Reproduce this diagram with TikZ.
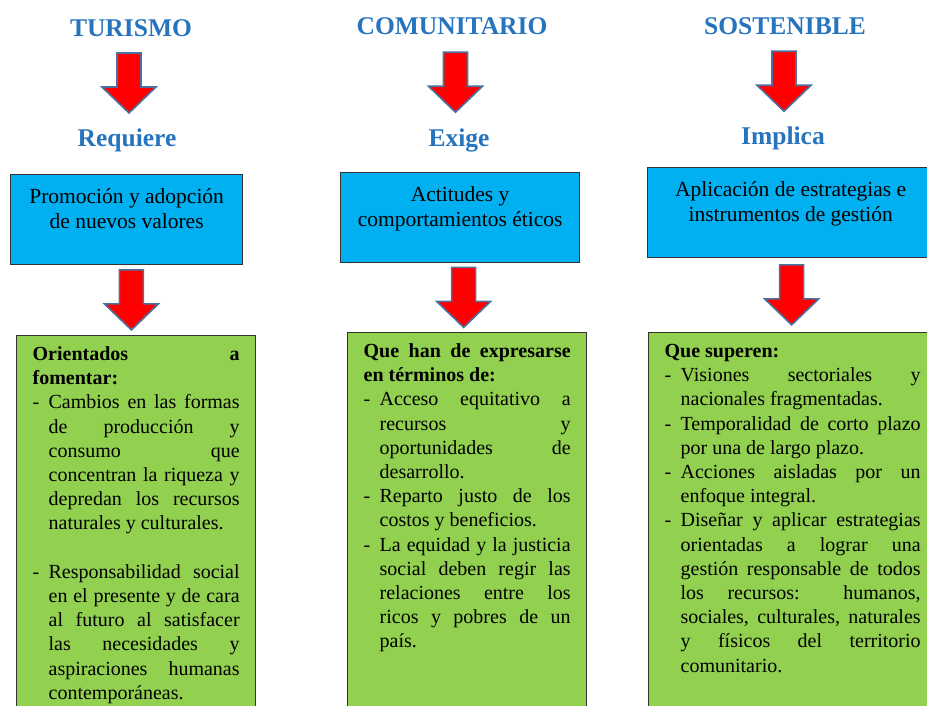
\documentclass[tikz,border=0pt]{standalone}
\usepackage{fontspec}
\setmainfont{Liberation Serif}
\usepackage{xcolor}
\usetikzlibrary{calc}

\definecolor{TitleBlue}{RGB}{38,116,190}
\definecolor{BoxBlue}{RGB}{0,176,240}
\definecolor{BoxGreen}{RGB}{146,208,80}
\definecolor{ArrowRed}{RGB}{255,0,0}
\definecolor{ArrowEdge}{RGB}{78,112,160}

\newcommand{\bluefont}{\fontsize{21.5}{25}\selectfont}
\newcommand{\greenfont}{\fontsize{20}{24.2}\selectfont\parskip=0pt}
% lines of the green boxes
\newcommand{\fullhead}[1]{\strut\makebox[\linewidth][s]{\bfseries #1}\par}
\newcommand{\lasthead}[1]{\strut{\bfseries #1}\par}
\newcommand{\fullitem}[1]{\strut\makebox[16pt][l]{-}\makebox[\dimexpr\linewidth-16pt\relax][s]{#1}\par}
\newcommand{\lastitem}[1]{\strut\makebox[16pt][l]{-}#1\par}
\newcommand{\fullline}[1]{\strut\hspace*{16pt}\makebox[\dimexpr\linewidth-16pt\relax][s]{#1}\par}
\newcommand{\lastline}[1]{\strut\hspace*{16pt}#1\par}

\tikzset{
  title/.style={font=\fontsize{25.5}{30}\selectfont\bfseries, text=TitleBlue, inner sep=0pt, anchor=base},
  bluebox/.style={draw=black!80, line width=1.3pt, fill=BoxBlue, inner xsep=10pt, inner ysep=11pt, anchor=north west},
  greenbox/.style={draw=black!80, line width=1.3pt, fill=BoxGreen, inner xsep=16pt, inner ysep=8pt, anchor=north west},
  downarrow/.pic={
    \filldraw[fill=ArrowRed, draw=ArrowEdge, line width=1.6pt]
      (-12,-30) -- (12,-30) -- (12,4) -- (27,4) -- (0,30) -- (-27,4) -- (-12,4) -- cycle;
  }
}

\begin{document}
\begin{tikzpicture}[x=1pt,y=-1pt]
    \useasboundingbox (0,0) rectangle (927,706);
    \clip (0,0) rectangle (927,706);

    % titles
    \node[title] (turismo) at (131,36.5) {TURISMO};
    \node[title] (comunitario) at (452,35) {COMUNITARIO};
    \node[title] (sostenible) at (785,35) {SOSTENIBLE};

    \node[title] (requiere) at (127,147) {Requiere};
    \node[title] (exige) at (459,147) {Exige};
    \node[title] (implica) at (783,145) {Implica};

    % blue boxes
    \node[bluebox] (promocion) at (10,174) {\parbox[c][67.5pt][t]{212pt}{\centering\bluefont
        \strut Promoción y adopción\\de nuevos valores}};
    \node[bluebox] (actitudes) at (340,172) {\parbox[c][67.5pt][t]{219pt}{\centering\bluefont
        \strut Actitudes y\\comportamientos éticos}};
    \node[bluebox] (aplicacion) at (647,167) {\parbox[c][67.5pt][t]{266pt}{\centering\bluefont
        \strut Aplicación de estrategias e\\instrumentos de gestión}};

    % green boxes
    \node[greenbox] (orientados) at (16,335) {\parbox[c][400pt][t]{207pt}{\greenfont
        \fullhead{Orientados a}
        \lasthead{fomentar:}
        \fullitem{Cambios en las formas}
        \fullline{de producción y}
        \fullline{consumo que}
        \fullline{concentran la riqueza y}
        \fullline{depredan los recursos}
        \lastline{naturales y culturales.}
        \strut\par
        \fullitem{Responsabilidad social}
        \fullline{en el presente y de cara}
        \fullline{al futuro al satisfacer}
        \fullline{las necesidades y}
        \fullline{aspiraciones humanas}
        \lastline{contemporáneas.}}};
    \node[greenbox] (expresarse) at (347,332) {\parbox[c][400pt][t]{207pt}{\greenfont
        \fullhead{Que han de expresarse}
        \lasthead{en términos de:}
        \fullitem{Acceso equitativo a}
        \fullline{recursos y}
        \fullline{oportunidades de}
        \lastline{desarrollo.}
        \fullitem{Reparto justo de los}
        \lastline{costos y beneficios.}
        \fullitem{La equidad y la justicia}
        \fullline{social deben regir las}
        \fullline{relaciones entre los}
        \fullline{ricos y pobres de un}
        \lastline{país.}}};
    \node[greenbox] (superen) at (648,332) {\parbox[c][400pt][t]{256pt}{\greenfont
        \lasthead{Que superen:}
        \fullitem{Visiones sectoriales y}
        \lastline{nacionales fragmentadas.}
        \fullitem{Temporalidad de corto plazo}
        \lastline{por una de largo plazo.}
        \fullitem{Acciones aisladas por un}
        \lastline{enfoque integral.}
        \fullitem{Diseñar y aplicar estrategias}
        \fullline{orientadas a lograr una}
        \fullline{gestión responsable de todos}
        \fullline{los recursos: humanos,}
        \fullline{sociales, culturales, naturales}
        \fullline{y físicos del territorio}
        \lastline{comunitario.}}};

    % red arrows
    \pic at ($(turismo.south)!0.5!(requiere.north)$) {downarrow};
    \pic at ($(comunitario.south)!0.5!(exige.north)$) {downarrow};
    \pic at ($(sostenible.south)!0.5!(implica.north)$) {downarrow};
    \pic at ($(promocion.south)!0.5!(orientados.north)$) {downarrow};
    \pic at ($(actitudes.south)!0.5!(expresarse.north)$) {downarrow};
    \pic at ($(aplicacion.south)!0.5!(superen.north)$) {downarrow};
\end{tikzpicture}
\end{document}
